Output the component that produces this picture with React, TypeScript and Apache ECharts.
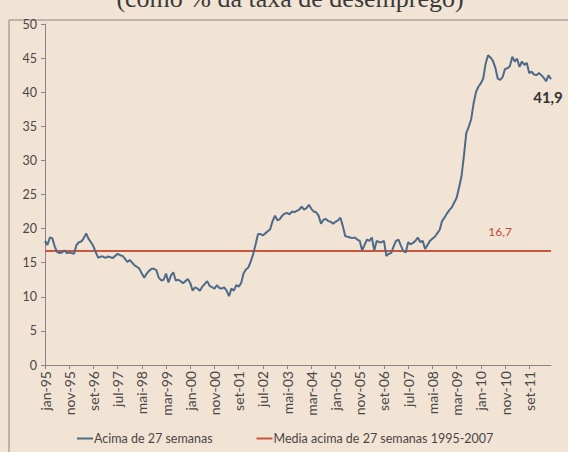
import React, { useEffect, useRef } from "react";
import * as echarts from "echarts";

const monthNames = ["jan", "fev", "mar", "abr", "mai", "jun", "jul", "ago", "set", "out", "nov", "dez"];
const years = [1995, 1996, 1997, 1998, 1999, 2000, 2001, 2002, 2003, 2004, 2005, 2006, 2007, 2008, 2009, 2010, 2011, 2012];
const lastMonthIndex2012 = 5; // jun-12

// Acima de 27 semanas (% do desemprego), monthly
const v1995 = [18.2, 17.6, 18.7, 18.6, 17.4, 16.6, 16.4, 16.5, 16.8, 16.4, 16.5, 16.4];
const v1996 = [16.3, 17.6, 18.0, 18.1, 18.6, 19.3, 18.5, 18.0, 17.4, 16.5, 15.7, 15.9];
const v1997 = [15.9, 15.7, 15.9, 15.8, 15.7, 16.0, 16.3, 16.1, 16.0, 15.6, 15.1, 15.4];
const v1998 = [15.0, 14.6, 14.4, 14.1, 13.4, 12.8, 13.4, 13.8, 14.1, 14.1, 13.9, 12.8];
const v1999 = [12.4, 12.5, 13.4, 12.1, 13.1, 13.6, 12.4, 12.5, 12.3, 12.0, 12.3, 12.6];
const v2000 = [12.0, 10.9, 11.4, 11.2, 10.9, 11.5, 11.9, 12.3, 11.6, 11.4, 11.2, 11.7];
const v2001 = [11.3, 11.2, 11.4, 10.9, 10.1, 11.2, 10.9, 11.7, 11.5, 12.0, 13.4, 14.0];
const v2002 = [14.3, 15.2, 16.3, 17.7, 19.2, 19.2, 19.0, 19.3, 19.6, 19.9, 21.1, 21.9];
const v2003 = [21.2, 21.4, 21.9, 22.2, 22.3, 22.1, 22.5, 22.4, 22.6, 22.8, 23.2, 22.8];
const v2004 = [23.0, 23.5, 22.9, 22.5, 22.4, 21.9, 20.7, 21.3, 21.4, 21.1, 21.0, 20.7];
const v2005 = [21.0, 21.2, 21.6, 20.4, 18.9, 18.8, 18.7, 18.6, 18.7, 18.4, 18.2, 16.8];
const v2006 = [17.6, 18.4, 18.2, 18.7, 16.8, 18.2, 18.0, 18.0, 18.2, 16.0, 16.3, 16.4];
const v2007 = [17.4, 18.2, 18.4, 17.5, 16.7, 16.5, 18.0, 17.7, 17.9, 18.2, 18.7, 18.0];
const v2008 = [18.2, 17.0, 17.6, 18.2, 18.5, 18.8, 19.3, 19.8, 21.1, 21.6, 22.2, 22.7];
const v2009 = [23.1, 23.8, 24.5, 26.0, 27.6, 30.6, 34.0, 34.9, 36.0, 38.3, 40.0, 40.8];
const v2010 = [41.3, 42.0, 44.2, 45.4, 45.1, 44.6, 43.6, 42.0, 41.8, 42.2, 43.4, 43.5];
const v2011 = [43.8, 45.2, 44.5, 44.9, 43.7, 44.5, 44.0, 44.3, 42.8, 43.0, 42.6, 42.5];
const v2012 = [42.8, 42.5, 42.1, 41.6, 42.5, 41.9];

const mediaValue = 16.7;
const mediaLabel = "16,7";
const lastLabel = "41,9";
const mediaLabelIndex = 188;

const seriesNames = ["Acima de 27 semanas", "Media acima de 27 semanas 1995-2007"];
const titleText = "(como % da taxa de desemprego)";

const categories: string[] = [];
years.forEach((y) => {
  monthNames.forEach((m, i) => {
    if (y === 2012 && i > lastMonthIndex2012) return;
    categories.push(m + "-" + String(y).slice(2));
  });
});

const acima = [
  ...v1995, ...v1996, ...v1997, ...v1998, ...v1999, ...v2000, ...v2001, ...v2002, ...v2003,
  ...v2004, ...v2005, ...v2006, ...v2007, ...v2008, ...v2009, ...v2010, ...v2011, ...v2012,
];

export default function App() {
  const ref = useRef<HTMLDivElement>(null);
  useEffect(() => {
    document.body.style.margin = "0";
    document.body.style.background = "#f2e4d5";
    const chart = echarts.init(ref.current!, null, { renderer: "svg" });
    const axisColor = "#8a8288";
    const labelColor = "#4a4646";
    const font = "Lato";
    const acimaData = acima.map((v, i) =>
      i === acima.length - 1
        ? {
            value: v,
            label: {
              show: true,
              formatter: lastLabel,
              position: "bottom",
              distance: 10,
              offset: [-3, 0],
              fontSize: 15,
              fontWeight: "bold",
              fontFamily: font,
              color: "#333",
            },
          }
        : v
    );
    const mediaData = categories.map((_, i) =>
      i === mediaLabelIndex
        ? {
            value: mediaValue,
            label: {
              show: true,
              formatter: mediaLabel,
              position: "top",
              distance: 14,
              fontSize: 12,
              fontFamily: font,
              color: "#c8453c",
            },
          }
        : mediaValue
    );
    chart.setOption({
      animation: false,
      backgroundColor: "#f2e4d5",
      grid: { left: 45, right: 17, top: 24, bottom: 87, containLabel: false },
      xAxis: {
        type: "category",
        data: categories,
        boundaryGap: false,
        axisLine: { lineStyle: { color: axisColor, width: 1 } },
        axisTick: { interval: 9, length: 4, lineStyle: { color: axisColor } },
        axisLabel: {
          interval: 9,
          rotate: 90,
          fontSize: 14,
          color: labelColor,
          fontFamily: font,
          margin: 6,
        },
      },
      yAxis: {
        type: "value",
        min: 0,
        max: 50,
        interval: 5,
        axisLine: { show: true, lineStyle: { color: axisColor, width: 1 } },
        axisTick: { show: true, length: 4, lineStyle: { color: axisColor } },
        splitLine: { show: false },
        axisLabel: { fontSize: 12.5, color: labelColor, fontFamily: font, margin: 8 },
      },
      legend: {
        bottom: 2,
        left: 72,
        icon: "rect",
        itemWidth: 16,
        itemHeight: 2,
        itemGap: 44,
        textStyle: { fontSize: 12.5, color: labelColor, fontFamily: font, padding: [0, 0, 0, -4] },
        data: seriesNames,
      },
      graphic: [
        {
          type: "rect",
          shape: { x: 9, y: 20, width: 700, height: 600 },
          style: { fill: "none", stroke: "#8a8080", lineWidth: 1 },
          silent: true,
        },
        {
          type: "text",
          x: 290,
          y: 11,
          style: {
            text: titleText,
            fontSize: 26,
            fontFamily: "Liberation Serif",
            fill: "#3a3a3a",
            align: "center",
            verticalAlign: "bottom",
          },
        },
      ],
      series: [
        {
          name: seriesNames[0],
          type: "line",
          data: acimaData,
          showSymbol: true,
          showAllSymbol: true,
          symbol: "circle",
          symbolSize: 0,
          lineStyle: { color: "#4d6a88", width: 2 },
          itemStyle: { color: "#4d6a88" },
          z: 3,
        },
        {
          name: seriesNames[1],
          type: "line",
          data: mediaData,
          showSymbol: true,
          showAllSymbol: true,
          symbol: "circle",
          symbolSize: 0,
          lineStyle: { color: "#c8553d", width: 2 },
          itemStyle: { color: "#c8553d" },
          z: 2,
        },
      ],
    });
    return () => chart.dispose();
  }, []);
  return <div ref={ref} style={{ width: 568, height: 452 }} />;
}
